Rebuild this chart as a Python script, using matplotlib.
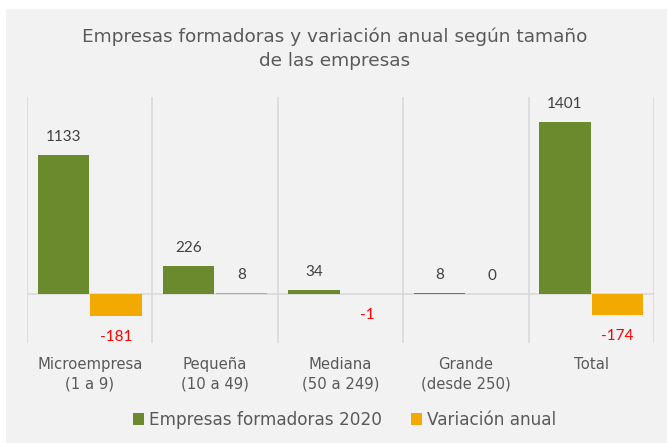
import matplotlib
matplotlib.use("Agg")
import matplotlib.pyplot as plt
from matplotlib.patches import Rectangle, Patch

# datos por tamaño de empresa
categorias = ["Microempresa\n(1 a 9)", "Pequeña\n(10 a 49)", "Mediana\n(50 a 249)",
              "Grande\n(desde 250)", "Total"]
formadoras_2020 = [1133, 226, 34, 8, 1401]
variacion_anual = [-181, 8, -1, 0, -174]

VERDE = "#6b8a2d"
NARANJA = "#f2a900"
GRIS_TXT = "#595959"
FONDO = "#f2f2f2"
LINEA = "#d9d9d9"

plt.rcParams["font.family"] = ["DejaVu Sans"]
NUM_FONT = ["Lato", "DejaVu Sans"]

fig = plt.figure(figsize=(6.69, 4.43), dpi=100)
fig.patch.set_facecolor("white")
fig.patches.append(Rectangle((6 / 669, 0), 661 / 669, 1 - 9 / 443,
                             transform=fig.transFigure, facecolor=FONDO,
                             edgecolor="none", zorder=-5))

ax = fig.add_axes([27 / 669, 1 - 343 / 443, 627 / 669, 246 / 443])
ax.set_facecolor("none")

x = list(range(len(categorias)))
off, w = 0.21, 0.41
ax.bar([i - off for i in x], formadoras_2020, width=w, color=VERDE, zorder=3)
ax.bar([i + off for i in x], variacion_anual, width=w, color=NARANJA, zorder=3)

for i, v in enumerate(formadoras_2020):
    ax.annotate(f"{v}", (i - off, v), xytext=(0, 13), textcoords="offset points",
                ha="center", va="center", fontsize=11, color="#404040", family=NUM_FONT)
for i, v in enumerate(variacion_anual):
    if v < 0:
        ax.annotate(f"{v}", (i + off, v), xytext=(0, -15), textcoords="offset points",
                    ha="center", va="center", fontsize=11, color="#ff0000", family=NUM_FONT)
    else:
        ax.annotate(f"{v}", (i + off, v), xytext=(0, 13), textcoords="offset points",
                    ha="center", va="center", fontsize=11, color="#404040", family=NUM_FONT)

# separadores verticales y línea de cero
for b in [i - 0.5 for i in range(len(categorias) + 1)]:
    ax.axvline(b, color=LINEA, lw=1.2, zorder=1)
ax.axhline(0, color=LINEA, lw=1.2, zorder=2)

ax.set_xlim(-0.5, len(categorias) - 0.5)
ax.set_ylim(-400, 1605)
ax.set_yticks([])
ax.set_xticks(x)
ax.set_xticklabels(categorias, fontsize=10.7, color=GRIS_TXT, linespacing=1.35)
ax.tick_params(axis="x", length=0, pad=10)
for s in ax.spines.values():
    s.set_visible(False)

fig.text(0.5, 1 - 49 / 443,
         "Empresas formadoras y variación anual según tamaño\nde las empresas",
         ha="center", va="center", fontsize=13.3, color=GRIS_TXT, linespacing=1.45)

handles = [Patch(facecolor=VERDE, label="Empresas formadoras 2020"),
           Patch(facecolor=NARANJA, label="Variación anual")]
fig.legend(handles=handles, loc="center", bbox_to_anchor=(0.515, 1 - 420 / 443),
           ncol=2, frameon=False, fontsize=12.2, handlelength=0.65, handleheight=0.65,
           handletextpad=0.3, columnspacing=1.7, labelcolor=GRIS_TXT)

fig.savefig("out.png", dpi=100)
